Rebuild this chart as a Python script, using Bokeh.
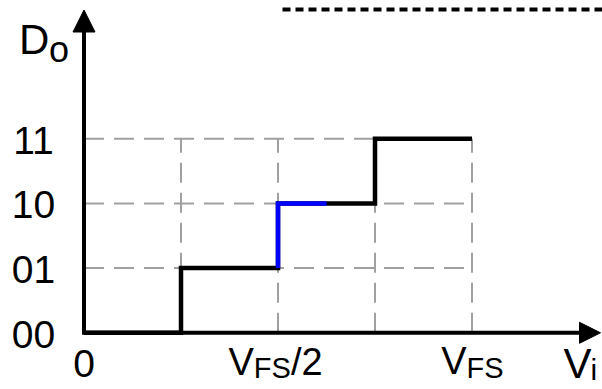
from bokeh.plotting import figure
from bokeh.models import Range1d, Arrow, NormalHead
from bokeh.core.properties import value
from bokeh.embed import file_html
from bokeh.resources import INLINE

# ---------------- data ----------------
codes = ["00", "01", "10", "11"]          # output codes D_o
code_levels = [0, 1, 2, 3]                 # code index on the vertical axis
step_x = [0, 1, 2, 3, 4]                   # input V_i in units of V_FS/4 (transition points)
step_y = [0, 1, 2, 3, 3]                   # output code level after each transition
highlight_x = [2, 2, 2.5]                  # blue highlighted portion of the staircase
highlight_y = [1, 2, 2]
grid_x = [1, 2, 3, 4]                      # vertical dashed guides
grid_y = [1, 2, 3]                         # horizontal dashed guides
x_full_scale = 4
x_tick_values = [0, 2, 4]
x_tick_main = ["0", "V", "V"]
x_tick_sub = ["", "FS", "FS"]
x_tick_tail = ["", "/2", ""]

# ---------------- layout ----------------
W, H = 602, 389
X0, Y0 = 83.5, 332.3        # pixel position of data origin inside the plot
PXX, PXY = 97.0, 64.7       # pixels per data unit

p = figure(width=W, height=H,
           x_range=Range1d(-X0 / PXX, (W - X0) / PXX),
           y_range=Range1d(-(H - Y0) / PXY, Y0 / PXY),
           output_backend="svg", toolbar_location=None,
           x_axis_location=None, y_axis_location=None,
           min_border=0)
p.grid.visible = False
p.outline_line_color = None
p.background_fill_color = "white"
p.border_fill_color = "white"

FONT = value("Liberation Sans")

# dashed guides
top = max(code_levels)
p.segment(x0=[0] * len(grid_y), y0=grid_y, x1=[x_full_scale] * len(grid_y), y1=grid_y,
          line_color="#a0a0a0", line_width=2, line_dash="20 10")
p.segment(x0=grid_x, y0=[0] * len(grid_x), x1=grid_x, y1=[top] * len(grid_x),
          line_color="#a0a0a0", line_width=2, line_dash="20 10")

# dashed black line at top (part of surrounding figure)
y_top_line = (Y0 - 9) / PXY
p.segment(x0=[(282 - X0) / PXX], y0=[y_top_line], x1=[(W + 10 - X0) / PXX], y1=[y_top_line],
          line_color="black", line_width=4, line_dash="8 5")

# axes with arrows
p.add_layout(Arrow(end=NormalHead(size=22, fill_color="black", line_color="black", line_width=1),
                   x_start=0, y_start=0, x_end=0, y_end=(Y0 - 9.5) / PXY,
                   line_width=4, line_color="black"))
p.add_layout(Arrow(end=NormalHead(size=21, fill_color="black", line_color="black", line_width=1),
                   x_start=-0.02, y_start=0, x_end=(600 - X0) / PXX, y_end=0,
                   line_width=4, line_color="black"))

# staircase transfer function
p.step(step_x, step_y, mode="after", line_color="black", line_width=4.5, line_join="miter")
p.line(highlight_x, highlight_y, line_color="#0000ff", line_width=4.5, line_join="miter")

common = dict(text_font=FONT, text_baseline="middle", text_color="black")

# y tick labels
p.text(x=[0] * len(codes), y=code_levels, text=codes, text_font_size="39px",
       text_align="center", x_offset=-50.5, y_offset=1.5, **common)

# x tick labels
p.text(x=[x_tick_values[0]], y=[0], text=[x_tick_main[0]], text_font_size="39px",
       text_align="center", y_offset=30.7, **common)
# V_FS/2
p.text(x=[x_tick_values[1]], y=[0], text=[x_tick_main[1]], text_font_size="38px",
       text_align="left", x_offset=-49.5, y_offset=29.2, **common)
p.text(x=[x_tick_values[1]], y=[0], text=[x_tick_sub[1]], text_font_size="29px",
       text_align="left", x_offset=-24.2, y_offset=35.2, **common)
p.text(x=[x_tick_values[1]], y=[0], text=[x_tick_tail[1]], text_font_size="38px",
       text_align="left", x_offset=12.9, y_offset=29.2, **common)
# V_FS
p.text(x=[x_tick_values[2]], y=[0], text=[x_tick_main[2]], text_font_size="38px",
       text_align="left", x_offset=-30.8, y_offset=28.0, **common)
p.text(x=[x_tick_values[2]], y=[0], text=[x_tick_sub[2]], text_font_size="29px",
       text_align="left", x_offset=-5.5, y_offset=35.2, **common)

# axis titles: D_o and V_i
p.text(x=[0], y=[0], text=["D"], text_font_size="42px",
       text_align="left", x_offset=-65.1, y_offset=-292.8, **common)
p.text(x=[0], y=[0], text=["o"], text_font_size="36px",
       text_align="left", x_offset=-35.0, y_offset=-283.3, **common)
p.text(x=[0], y=[0], text=["V"], text_font_size="42px",
       text_align="left", x_offset=479.5, y_offset=30.5, **common)
p.text(x=[0], y=[0], text=["i"], text_font_size="30px",
       text_align="left", x_offset=506.5, y_offset=37.0, **common)

open("out.html", "w").write(file_html(p, INLINE))
